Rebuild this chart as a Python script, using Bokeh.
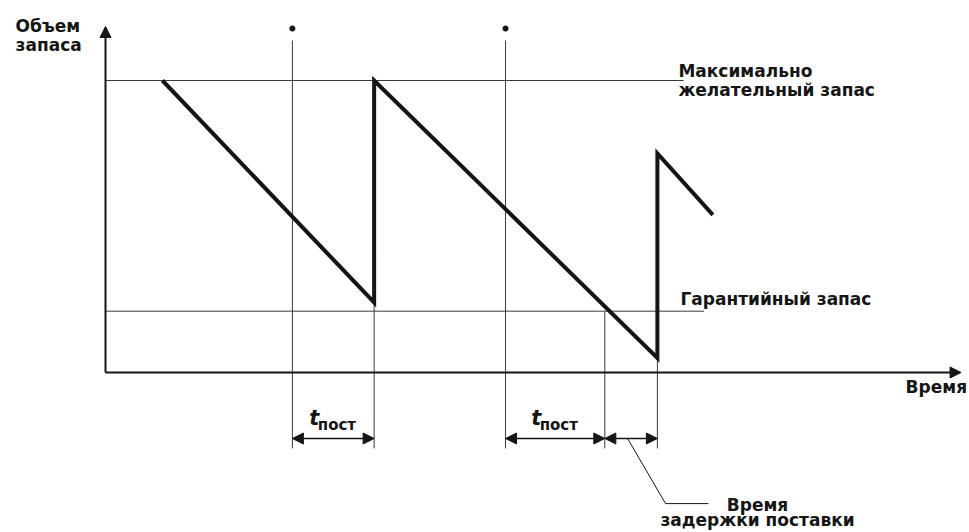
from bokeh.plotting import figure
from bokeh.models import Arrow, NormalHead, Range1d
from bokeh.core.properties import value
from bokeh.embed import file_html
from bokeh.resources import INLINE

# ---- data (schematic units: stock 0..100, time in arbitrary units) ----
saw_t = [19.5, 92, 92, 189, 189, 208]
saw_stock = [100, 24, 100, 5, 75, 54]
max_stock = 100
safety_stock = 21
order_times = [64, 137]          # moments of ordering (marked with *)
delivery_times = [92, 171]       # lead-time ends (t_пост)
delay_end = 189                  # end of delivery delay
axis_top = 118.5
axis_right = 293
dim_bottom = -26
dim_y = -22.6

K = 2.92  # px per unit
W, H = 969, 532
p = figure(width=W, height=H, output_backend="svg", toolbar_location=None,
           x_range=Range1d((0 - 105) / K, (W - 105) / K),
           y_range=Range1d((372 - H) / K, 372 / K),
           min_border=0)
p.axis.visible = False
p.grid.visible = False
p.outline_line_color = None
p.background_fill_color = "white"
p.border_fill_color = "white"

INK = "#151515"
THIN = "#3a3a3a"
FONT = value("DejaVu Sans")

def txt(x, y, s, size="17px", align="left", style="bold", baseline="middle"):
    p.text(x=[x], y=[y], text=[s], text_font=FONT, text_font_size=size,
           text_font_style=style, text_align=align, text_baseline=baseline,
           text_color=INK)

# axes with arrows
p.add_layout(Arrow(end=NormalHead(size=11, fill_color=INK, line_color=INK),
                   x_start=0, y_start=0, x_end=0, y_end=axis_top,
                   line_color=INK, line_width=2))
p.add_layout(Arrow(end=NormalHead(size=11, fill_color=INK, line_color=INK),
                   x_start=0, y_start=0, x_end=axis_right, y_end=0,
                   line_color=INK, line_width=2))

# level lines
p.line([0, 198], [max_stock, max_stock], line_color=THIN, line_width=1)
p.line([0, 205], [safety_stock, safety_stock], line_color=THIN, line_width=1)

# vertical helper lines
for t in order_times:
    p.line([t, t], [113.7, dim_bottom], line_color=THIN, line_width=1)
p.scatter(x=order_times, y=[117.8] * len(order_times), marker="asterisk",
          size=6, line_color=INK, line_width=2)
p.line([delivery_times[0]] * 2, [saw_stock[1], dim_bottom], line_color=THIN, line_width=1)
p.line([delivery_times[1]] * 2, [safety_stock, dim_bottom], line_color=THIN, line_width=1)
p.line([delay_end] * 2, [saw_stock[3], dim_bottom], line_color=THIN, line_width=1)

# sawtooth
p.line(saw_t, saw_stock, line_color=INK, line_width=4, line_join="miter")

# dimension arrows
def dim(a, b):
    p.add_layout(Arrow(start=NormalHead(size=11, fill_color=INK, line_color=INK),
                       end=NormalHead(size=11, fill_color=INK, line_color=INK),
                       x_start=a, y_start=dim_y, x_end=b, y_end=dim_y,
                       line_color=INK, line_width=1.5))

for o, d in zip(order_times, delivery_times):
    dim(o, d)
    mid = (o + d) / 2
    txt(mid - 8.2, -19.8, "t", size="21px", style="bold italic", baseline="bottom")
    txt(mid - 5.3, -20.9, "пост", size="15px", baseline="bottom")
dim(delivery_times[1], delay_end)

# leader for delay
p.line([178.8, 191.8, 206.5], [-22.6, -44.9, -44.9], line_color=INK, line_width=1)

# labels
txt(-30.8, 118.8, "Объем")
txt(-30.8, 112.0, "запаса")
txt(196.2, 103.4, "Максимально")
txt(196.2, 96.6, "желательный запас")
txt(196.9, 25.3, "Гарантийный запас")
txt(274.0, -5.1, "Время")
txt(223.3, -45.5, "Время", align="center")
txt(223.3, -50.6, "задержки поставки", align="center")

open("out.html", "w").write(file_html(p, INLINE))
